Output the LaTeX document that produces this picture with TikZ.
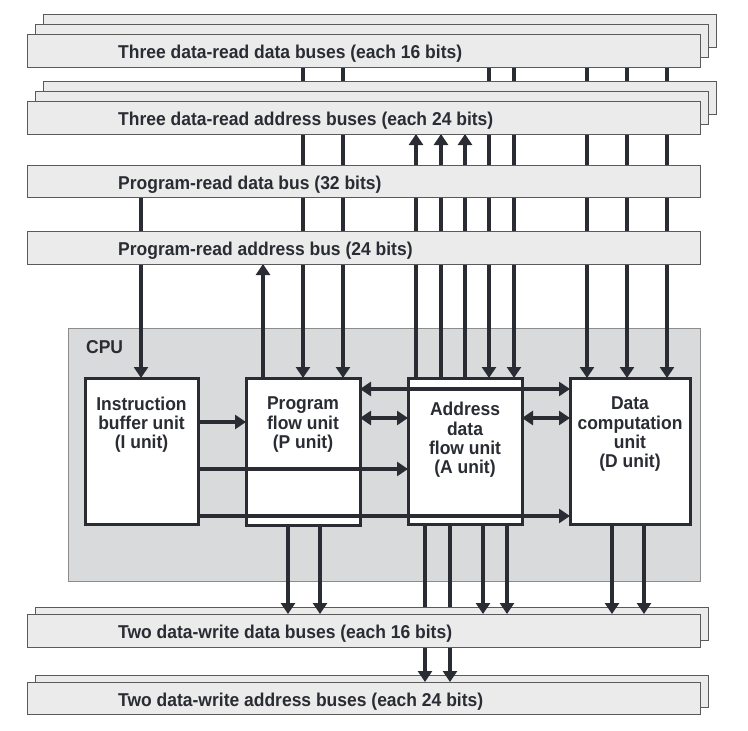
\documentclass[tikz,border=0pt]{standalone}
\usepackage{fontspec}
\setmainfont{Liberation Sans}[FakeStretch=0.94]
\usetikzlibrary{arrows.meta}
\definecolor{busfill}{HTML}{EBEBEB}
\definecolor{busline}{HTML}{5A5A5A}
\definecolor{cpufill}{HTML}{D9DADC}
\definecolor{cpuline}{HTML}{8C8C8C}
\definecolor{ink}{HTML}{2A2C33}
\pgfdeclarelayer{bg}
\pgfdeclarelayer{lines}
\pgfsetlayers{bg,lines,main}
\begin{document}
\begin{tikzpicture}[x=1pt,y=-1pt,
  bus/.style={draw=busline, fill=busfill, line width=1pt, minimum width=673pt, minimum height=33pt, anchor=north west, inner sep=0pt, outer sep=0pt},
  buslabel/.style={anchor=base west, font=\fontsize{18.6}{19.3}\selectfont\bfseries, text=ink, inner sep=0pt},
  unit/.style={draw=ink, fill=white, line width=3pt, anchor=north west, inner sep=0pt, outer sep=0pt},
  unitlabel/.style={align=center, font=\fontsize{18.6}{19.3}\selectfont\bfseries, text=ink, inner sep=0pt},
  arr/.style={draw=ink, line width=3.8pt, -{Triangle[width=14pt,length=11pt]}},
  darr/.style={draw=ink, line width=3.8pt, {Triangle[width=14pt,length=11pt]}-{Triangle[width=14pt,length=11pt]}}]
\useasboundingbox (0,0) rectangle (748,731);

% CPU
\begin{pgfonlayer}{bg}
\node[draw=cpuline, fill=cpufill, line width=1pt, anchor=north west, minimum width=632pt, minimum height=253pt, inner sep=0pt, outer sep=0pt] (cpu) at (68,328) {};
\end{pgfonlayer}
\node[buslabel] (cpulabel) at (86,353) {CPU};

% top buses
\node[bus] (b1c) at (43,14) {};
\node[bus] (b1b) at (35,24) {};
\node[bus] (b1) at (27,34) {};
\node[buslabel] (b1t) at (118,58.3) {Three data-read data buses (each 16 bits)};
\node[bus] (b2c) at (43,81) {};
\node[bus] (b2b) at (35,91) {};
\node[bus] (b2) at (27,101) {};
\node[buslabel] (b2t) at (118,125.3) {Three data-read address buses (each 24 bits)};
\node[bus, minimum height=32pt] (b3) at (27,165) {};
\node[buslabel] (b3t) at (118,189.3) {Program-read data bus (32 bits)};
\node[bus] (b4) at (27,231) {};
\node[buslabel] (b4t) at (118,255.3) {Program-read address bus (24 bits)};

% units
\node[unit, minimum width=113pt, minimum height=146pt] (I) at (85,378) {};
\node[unit, minimum width=114pt, minimum height=147pt] (P) at (246,378) {};
\node[unit, minimum width=114pt, minimum height=146pt] (A) at (408,378) {};
\node[unit, minimum width=120pt, minimum height=146pt] (D) at (570,378) {};
\node[unitlabel] (It) at (141.5,424.5) {Instruction\\buffer unit\\(I unit)};
\node[unitlabel] (Pt) at (303,424.6) {Program\\flow unit\\(P unit)};
\node[unitlabel] (At) at (465,440) {Address\\data\\flow unit\\(A unit)};
\node[unitlabel] (Dt) at (630,434.2) {Data\\computation\\unit\\(D unit)};

% vertical connectors behind the buses
\begin{pgfonlayer}{lines}
\draw[arr] (141,0 |- b3.south) -- (141,0 |- I.north);
\draw[arr] (263,0 |- P.north) -- (263,0 |- b4.south);
\foreach \x in {303,343} \draw[arr] (\x,0 |- b1.south) -- (\x,0 |- P.north);
\foreach \x in {489,514} \draw[arr] (\x,0 |- b1.south) -- (\x,0 |- A.north);
\foreach \x in {587,627,667} \draw[arr] (\x,0 |- b1.south) -- (\x,0 |- D.north);
\foreach \x in {416,441,465} \draw[arr] (\x,0 |- A.north) -- (\x,0 |- b2.south);
\end{pgfonlayer}

% horizontal connectors
\draw[darr] (P.east |- 0,389) -- (D.west |- 0,389);
\draw[darr] (P.east |- 0,418) -- (A.west |- 0,418);
\draw[darr] (A.east |- 0,418) -- (D.west |- 0,418);
\draw[arr] (I.east |- 0,422) -- (P.west |- 0,422);
\draw[arr] (I.east |- 0,469) -- (A.west |- 0,469);
\draw[arr] (I.east |- 0,516) -- (D.west |- 0,516);

% bottom buses
\node[bus, minimum height=32pt] (b6b) at (35,675) {};
\node[bus, minimum height=32pt] (b6) at (27,682) {};
\node[buslabel] (b6t) at (118,706.3) {Two data-write address buses (each 24 bits)};
\foreach \x in {425,450} \draw[arr] (\x,0 |- A.south) -- (\x,0 |- b6.north);
\node[bus] (b5b) at (35,607) {};
\node[bus] (b5) at (27,614) {};
\node[buslabel] (b5t) at (118,638.3) {Two data-write data buses (each 16 bits)};
\foreach \x in {288,320} \draw[arr] (\x,0 |- P.south) -- (\x,0 |- b5.north);
\foreach \x in {483,507} \draw[arr] (\x,0 |- A.south) -- (\x,0 |- b5.north);
\foreach \x in {612,644} \draw[arr] (\x,0 |- D.south) -- (\x,0 |- b5.north);
\end{tikzpicture}
\end{document}
